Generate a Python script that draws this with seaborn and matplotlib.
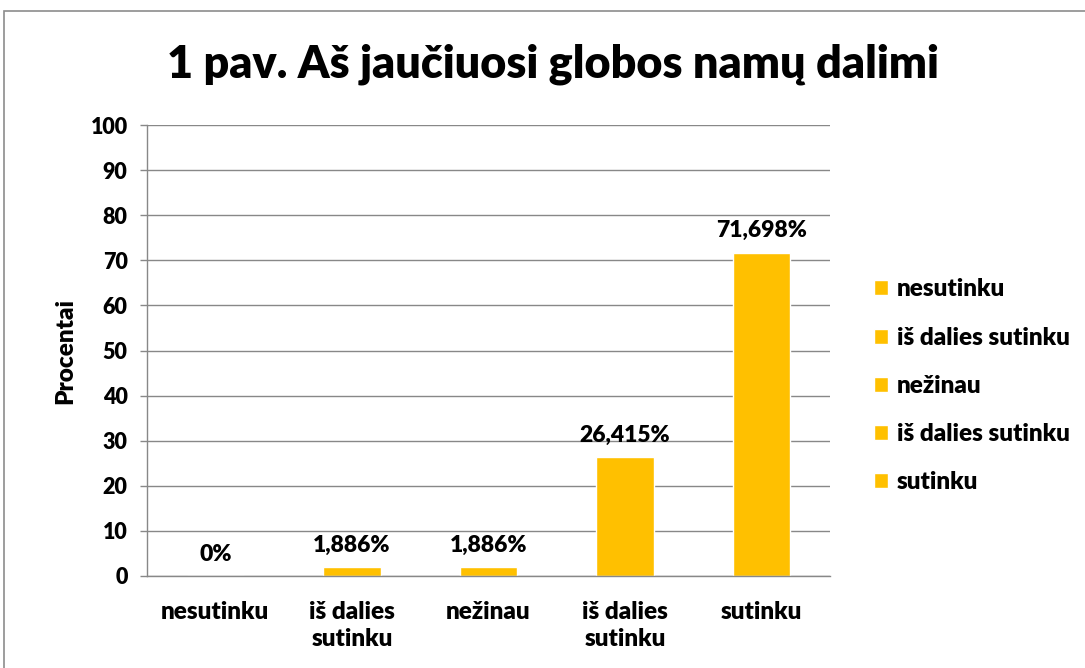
import matplotlib
matplotlib.use("Agg")
import matplotlib.pyplot as plt
import matplotlib.patches as mpatches
import seaborn as sns
import pandas as pd

categories = ["nesutinku", "iš dalies\nsutinku", "nežinau", "iš dalies\nsutinku", "sutinku"]
legend_labels = ["nesutinku", "iš dalies sutinku", "nežinau", "iš dalies sutinku", "sutinku"]
values = [0, 1.886, 1.886, 26.415, 71.698]
value_labels = ["0%", "1,886%", "1,886%", "26,415%", "71,698%"]

BAR = "#FFC000"
GRID = "#888888"
W = "heavy"

sns.set_theme(style="white")
plt.rcParams["font.family"] = ["Lato", "DejaVu Sans"]
plt.rcParams["font.weight"] = W
plt.rcParams["text.color"] = "black"
plt.rcParams["xtick.color"] = "black"
plt.rcParams["ytick.color"] = "black"
plt.rcParams["axes.labelcolor"] = "black"

df = pd.DataFrame({"pos": [str(i) for i in range(len(values))], "value": values})

fig = plt.figure(figsize=(10.85, 6.68), dpi=100)
ax = fig.add_axes([147 / 1085, 1 - 576 / 668, (830 - 147) / 1085, (576 - 125) / 668])

sns.barplot(data=df, x="pos", y="value", hue="pos", palette=[BAR] * len(values),
            width=0.42, legend=True, ax=ax, saturation=1)

ax.set_ylim(0, 100)
ax.set_xlim(-0.5, len(values) - 0.5)
ax.set_yticks(range(0, 101, 10))
ax.yaxis.grid(True, color=GRID, linewidth=1)
ax.set_axisbelow(True)
for s in ["top", "right"]:
    ax.spines[s].set_visible(False)
for s in ["left", "bottom"]:
    ax.spines[s].set_color(GRID)
    ax.spines[s].set_linewidth(1)

ax.set_xticks(range(len(values)))
ax.set_xticklabels(categories, fontsize=17.5, fontweight=W, linespacing=1.3)
ax.set_xticks([i - 0.5 for i in range(len(values) + 1)], minor=True)
ax.tick_params(axis="x", which="major", length=0, pad=18)
ax.tick_params(axis="x", which="minor", length=5, color=GRID, width=1, direction="out")
ax.tick_params(axis="y", length=5, color=GRID, width=1, direction="out", left=True,
               labelsize=15.5, pad=9)
for t in ax.get_yticklabels():
    t.set_fontweight(W)

ax.set_xlabel("")
ax.set_ylabel("Procentai", fontsize=17.5, fontweight=W, labelpad=10)

for i, (v, lab) in enumerate(zip(values, value_labels)):
    ax.annotate(lab, (i, v), xytext=(0, 11), textcoords="offset points",
                ha="center", va="baseline", fontsize=16.5, fontweight=W)

handles, _ = ax.get_legend_handles_labels()
ax.legend(handles, legend_labels, loc="center left", bbox_to_anchor=(874 / 1085, 1 - 386 / 668),
          bbox_transform=fig.transFigure, frameon=False, borderpad=0, borderaxespad=0,
          handlelength=0.58, handleheight=0.58, handletextpad=0.35, labelspacing=1.08,
          prop={"weight": W, "size": 17.5})

fig.text(553 / 1085, 1 - 64 / 668, "1 pav. Aš jaučiuosi globos namų dalimi", ha="center", va="center",
         fontsize=32.3, fontweight=W)

fig.patches.append(mpatches.Rectangle((4 / 1085, -0.1), 2, 1.1 - 11 / 668, transform=fig.transFigure,
                                      fill=False, edgecolor="#8c8c8c", linewidth=1.2))

fig.savefig("out.png", dpi=100)
